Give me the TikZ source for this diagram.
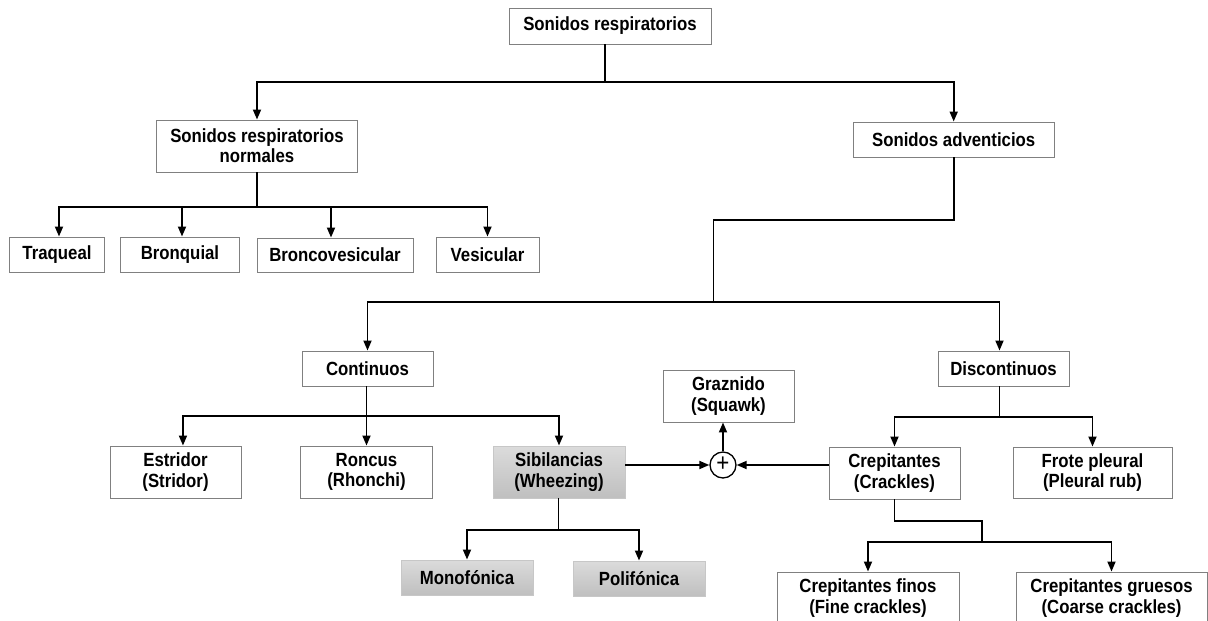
\documentclass[tikz,border=0pt]{standalone}
\usepackage{fontspec}
\setmainfont{Liberation Sans}[FakeStretch=0.88]
\usetikzlibrary{arrows.meta}
\begin{document}
\begin{tikzpicture}[x=0.75pt,y=-0.75pt,
  box/.style={draw=black!50, line width=0.7pt, fill=white, align=center, inner sep=0pt,
    font=\fontsize{14.3pt}{15.2pt}\selectfont\bfseries},
  graybox/.style={box, draw=black!22, top color=black!14, bottom color=black!25},
  conn/.style={line width=1.3pt, black},
  arr/.style={conn, -{Triangle[length=7.5pt,width=6pt]}}]
\useasboundingbox (0,0) rectangle (1208,621);
\clip (0,0) rectangle (1208,621);

% nodes
\node[box, minimum width=151.5pt, minimum height=27pt] (top) at (610,26) {Sonidos respiratorios};
\node[box, minimum width=150.75pt, minimum height=39pt] (normales) at (257,146) {Sonidos respiratorios\\normales};
\node[box, minimum width=71.25pt, minimum height=26.25pt] (traqueal) at (57,254.5) {Traqueal};
\node[box, minimum width=88.9pt, minimum height=26.25pt] (bronquial) at (180,254.5) {Bronquial};
\node[box, minimum width=117pt, minimum height=25.5pt] (broncovesicular) at (335,255) {Broncovesicular};
\node[box, minimum width=77.25pt, minimum height=26.25pt] (vesicular) at (487.5,254.5) {Vesicular};
\node[box, minimum width=151.1pt, minimum height=26.25pt] (adventicios) at (953.7,139.5) {Sonidos adventicios};
\node[box, minimum width=98.25pt, minimum height=26.25pt] (continuos) at (367.5,368.5) {Continuos};
\node[box, minimum width=98.25pt, minimum height=26.25pt] (discontinuos) at (1003.5,368.5) {Discontinuos};
\node[box, minimum width=98.25pt, minimum height=39pt] (graznido) at (728.5,396) {Graznido\\(Squawk)};
\node[box, minimum width=98.25pt, minimum height=39pt] (estridor) at (175.5,472) {Estridor\\(Stridor)};
\node[box, minimum width=99pt, minimum height=39pt] (roncus) at (366.5,472) {Roncus\\(Rhonchi)};
\node[graybox, minimum width=99pt, minimum height=39pt] (sibilancias) at (559,472) {Sibilancias\\(Wheezing)};
\node[box, minimum width=98.25pt, minimum height=39pt] (crepitantes) at (894.5,473) {Crepitantes\\(Crackles)};
\node[box, minimum width=119.25pt, minimum height=38.25pt] (frote) at (1092.5,472.5) {Frote pleural\\(Pleural rub)};
\node[graybox, minimum width=99pt, minimum height=26.25pt] (mono) at (467,577.5) {Monofónica};
\node[graybox, minimum width=99pt, minimum height=26.25pt] (poli) at (639,578.5) {Polifónica};
\node[box, minimum width=136.5pt, minimum height=39pt] (finos) at (868,598) {Crepitantes finos\\(Fine crackles)};
\node[box, minimum width=143.25pt, minimum height=39pt] (gruesos) at (1111.5,598) {Crepitantes gruesos\\(Coarse crackles)};
\node[circle, draw, line width=1pt, minimum size=19.5pt, inner sep=0pt,
  font=\fontsize{19pt}{19pt}\selectfont] (plus) at (723,465) {\raisebox{0.6pt}{+}};

% bus coordinates
\coordinate (b1) at (605,82);
\coordinate (b2) at (257,207);
\coordinate (b3) at (713.6,220);
\coordinate (b4) at (713.6,302);
\coordinate (b5) at (366.6,416);
\coordinate (b6) at (558.5,530);
\coordinate (b7) at (999.4,417);
\coordinate (b8) at (982,521);
\coordinate (b9) at (982,542);

% connectors
\draw[conn] ([xshift=-3.75pt]top.south) -- (b1);
\draw[arr] (b1) -| (normales.north);
\draw[arr] (b1) -| (adventicios.north);

\draw[conn] (normales.south) -- (b2);
\draw[arr] (b2) -| ([xshift=1.5pt]traqueal.north);
\draw[arr] (b2) -| ([xshift=1.5pt]bronquial.north);
\draw[arr] (b2) -| ([xshift=-3pt]broncovesicular.north);
\draw[arr] (b2) -| (vesicular.north);

\draw[conn] (adventicios.south) |- (b3) -- (b4);
\draw[arr] (b4) -| (continuos.north);
\draw[arr] (b4) -| ([xshift=-3pt]discontinuos.north);

\draw[conn] (continuos.south -| b5) -- (b5);
\draw[arr] (b5) -| ([xshift=5.6pt]estridor.north);
\draw[arr] (b5) -| (roncus.north);
\draw[arr] (b5) -| (sibilancias.north);

\draw[conn] (sibilancias.south -| b6) -- (b6);
\draw[arr] (b6) -| (mono.north);
\draw[arr] (b6) -| (poli.north);

\draw[conn] (discontinuos.south -| b7) -- (b7);
\draw[arr] (b7) -| (crepitantes.north);
\draw[arr] (b7) -| (frote.north);

\draw[conn] (crepitantes.south) |- (b8) -- (b9);
\draw[arr] (b9) -| (finos.north);
\draw[arr] (b9) -| (gruesos.north);

\draw[arr] (sibilancias.east |- plus.west) -- (plus.west);
\draw[arr] (crepitantes.west |- plus.east) -- (plus.east);
\draw[arr] (plus.north) -- (plus.north |- graznido.south);
\end{tikzpicture}
\end{document}
